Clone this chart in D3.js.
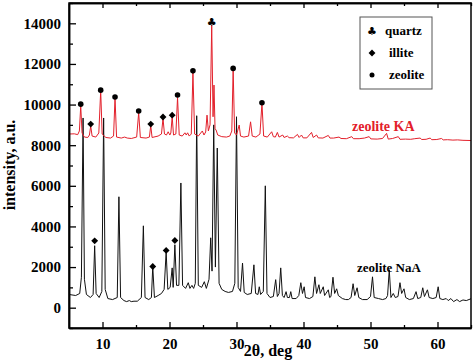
<!DOCTYPE html>
<html>
<head>
<meta charset="utf-8">
<script src="https://cdn.jsdelivr.net/npm/d3@7"></script>
<style>
  body { margin: 0; background: #fff; }
  svg text { font-family: "Liberation Serif", "Times New Roman", serif; font-weight: bold; }
</style>
</head>
<body>
<svg id="chart" width="474" height="362"></svg>
<script>
// zeolite NaA pattern, [2theta, intensity]
const naA = [
  [5.0,650],[6.0,600],[6.6,700],[6.85,1500],[7.1,9340],[7.3,1400],[7.6,650],[8.2,500],[8.6,650],
  [8.83,3050],[9.05,700],[9.5,500],[9.9,800],[10.17,9340],[10.4,900],[10.8,450],[11.5,400],[12.2,500],
  [12.45,5460],[12.7,500],[13.2,350],[13.6,300],[14.0,350],[14.3,300],[14.7,320],[15.2,320],[15.8,500],
  [16.1,4030],[16.35,500],[16.9,400],[17.3,500],[17.5,2020],[17.75,500],[18.3,600],[18.8,700],[19.2,900],
  [19.5,2750],[19.75,900],[20.1,1000],[20.4,1960],[20.55,1000],[20.8,3100],[21.05,1100],[21.4,1100],
  [21.7,6140],[21.95,1100],[22.4,950],[22.8,1230],[23.05,950],[23.35,1100],[23.6,950],[23.85,1200],
  [24.06,9450],[24.3,1100],[24.8,1000],[25.2,1280],[25.5,950],[25.9,1400],[26.15,3440],[26.35,1800],
  [26.6,9000],[26.85,2000],[27.13,7860],[27.4,1200],[27.8,900],[28.3,800],[28.8,750],[29.4,800],
  [29.75,1200],[30.0,9400],[30.25,1000],[30.6,800],[30.9,2200],[31.15,750],[31.6,650],[32.2,700],
  [32.6,2110],[32.85,700],[33.2,650],[33.4,1030],[33.6,650],[34.0,800],[34.3,6000],[34.55,700],
  [35.0,500],[35.5,550],[35.85,1380],[36.1,550],[36.35,700],[36.6,1960],[36.85,600],[37.1,500],
  [37.4,790],[37.6,500],[37.9,500],[38.1,790],[38.3,450],[38.9,450],[39.3,600],[39.6,1230],[39.85,700],
  [40.1,1030],[40.3,500],[40.9,450],[41.4,550],[41.7,1520],[41.95,700],[42.3,1130],[42.5,700],
  [42.95,1030],[43.15,600],[43.7,880],[43.9,500],[44.1,550],[44.4,1500],[44.65,700],[44.95,930],
  [45.2,600],[45.8,450],[46.3,400],[46.7,400],[47.1,500],[47.4,1180],[47.65,600],[48.0,980],[48.25,500],
  [48.8,400],[49.5,400],[50.0,550],[50.3,1520],[50.55,500],[51.2,450],[51.8,400],[52.3,450],[52.55,600],
  [52.8,1870],[53.05,500],[53.4,700],[53.7,500],[54.1,550],[54.4,1230],[54.65,700],[55.0,930],
  [55.25,500],[55.8,400],[56.4,450],[56.8,790],[57.05,450],[57.5,500],[57.8,980],[58.05,550],
  [58.5,880],[58.75,500],[59.3,450],[59.8,500],[60.1,1030],[60.35,450],[60.8,400],[61.3,450],
  [61.6,350],[62.0,450],[62.4,300],[62.9,400],[63.3,300],[63.8,380],[64.3,350],[65.0,440]
];

// zeolite KA pattern
const kA = [
  [5.0,8550],[5.8,8560],[6.3,8520],[6.55,8700],[6.75,9930],[6.95,8600],[7.3,8400],[7.8,8380],
  [8.05,8500],[8.24,8940],[8.45,8450],[9.0,8400],[9.45,8600],[9.73,10680],[9.95,8550],[10.5,8380],
  [11.2,8350],[11.65,8450],[11.87,10330],[12.1,8400],[12.8,8350],[13.3,8400],[13.7,8350],[14.3,8330],
  [15.1,8400],[15.4,9600],[15.65,8380],[16.5,8350],[17.0,8400],[17.2,8960],[17.4,8380],[18.3,8450],
  [18.8,8550],[19.03,9320],[19.25,8550],[19.55,8500],[19.8,8660],[20.05,8500],[20.2,8600],[20.4,9400],
  [20.6,8500],[20.95,8550],[21.2,10350],[21.45,8500],[21.9,8450],[22.3,8610],[22.5,8500],[22.7,8610],
  [22.95,8450],[23.25,8550],[23.5,11560],[23.75,8550],[24.3,8450],[24.9,8700],[25.15,8500],[25.4,8650],
  [25.6,9480],[25.8,8700],[26.05,9000],[26.3,13900],[26.5,9400],[26.64,10960],[26.8,8800],[26.95,8750],
  [27.2,8500],[27.8,8420],[28.5,8400],[29.0,8450],[29.3,8700],[29.5,11730],[29.72,8600],[30.0,8500],
  [30.4,8990],[30.6,8450],[31.1,8400],[31.8,8450],[32.1,9150],[32.35,8450],[32.9,8400],[33.5,8550],
  [33.8,10060],[34.05,8450],[34.6,8400],[35.25,8660],[35.5,8420],[35.8,8400],[36.1,8630],[36.35,8400],
  [36.9,8500],[37.1,8380],[37.6,8450],[37.85,8370],[38.5,8360],[39.1,8530],[39.35,8380],[39.7,8500],
  [39.95,8360],[40.5,8360],[41.2,8630],[41.45,8380],[41.95,8500],[42.2,8360],[42.9,8350],[43.7,8480],
  [43.95,8350],[44.5,8350],[45.3,8400],[45.6,8330],[46.4,8320],[47.2,8420],[47.45,8320],[48.3,8320],
  [49.1,8350],[49.8,8420],[50.05,8310],[51.0,8300],[51.8,8330],[52.4,8580],[52.65,8300],[53.3,8330],
  [54.15,8420],[54.4,8290],[55.2,8300],[56.0,8290],[56.6,8320],[57.4,8350],[57.65,8280],[58.3,8290],
  [58.9,8350],[59.15,8270],[59.9,8280],[60.6,8330],[60.85,8260],[61.5,8270],[62.3,8250],[63.0,8260],
  [63.8,8240],[65.0,8230]
];

// phase markers, [2theta, intensity of marker]
const zeoliteMarks = [[6.75,10020],[9.73,10710],[11.87,10370],[15.4,9680],[21.2,10470],[23.5,11660],[29.5,11780],[33.8,10090]];
const illiteMarks = [[8.24,9040],[17.2,9040],[19.03,9390],[20.4,9480],[8.83,3290],[17.5,2030],[19.5,2820],[20.8,3310]];
const quartzMarks = [[26.3,14050]];

const xTicks = [10, 20, 30, 40, 50, 60];
const xMinor = [15, 25, 35, 45, 55, 65];
const yTicks = [0, 2000, 4000, 6000, 8000, 10000, 12000, 14000];
const yMinor = [-1000, 1000, 3000, 5000, 7000, 9000, 11000, 13000, 15000];

const legendItems = ["quartz", "illite", "zeolite"];

var svg = d3.select("#chart"),
  width = +svg.attr("width"),
  height = +svg.attr("height");
var margin = {top: 3, right: 3, bottom: 34, left: 69};
var w = width - margin.left - margin.right,
  h = height - margin.top - margin.bottom;

var g = svg.append("g").attr("transform", "translate(" + margin.left + "," + margin.top + ")");

var x = d3.scaleLinear().domain([5, 65]).range([0, w]);
var y = d3.scaleLinear().domain([-1000, 15000]).range([h, 0]);

var red = "#e3202b";
var serif = "'Liberation Serif', 'Times New Roman', serif";

// lines
var line = d3.line().x(d => x(d[0])).y(d => y(d[1]));
g.append("path").datum(naA).attr("d", line)
  .attr("fill", "none").attr("stroke", "#111").attr("stroke-width", 1);
g.append("path").datum(kA).attr("d", line)
  .attr("fill", "none").attr("stroke", red).attr("stroke-width", 1);

// markers
g.selectAll(".zeo").data(zeoliteMarks).enter().append("circle")
  .attr("cx", d => x(d[0])).attr("cy", d => y(d[1])).attr("r", 2.8).attr("fill", "#000");
var diamond = d3.symbol().type(d3.symbolDiamond2).size(30);
g.selectAll(".ill").data(illiteMarks).enter().append("path")
  .attr("d", diamond)
  .attr("transform", d => "translate(" + x(d[0]) + "," + y(d[1]) + ")")
  .attr("fill", "#000");
g.selectAll(".qtz").data(quartzMarks).enter().append("text")
  .attr("x", d => x(d[0])).attr("y", d => y(d[1]) + 4)
  .attr("text-anchor", "middle")
  .style("font-family", "DejaVu Sans").style("font-size", "11px")
  .text("\u2663");

// axes
var fmt = d3.format("d");
g.append("g").attr("transform", "translate(0," + h + ")")
  .call(d3.axisBottom(x).tickValues(xTicks).tickFormat(fmt).tickSize(-6).tickPadding(10).tickSizeOuter(0));
g.append("g").attr("transform", "translate(0," + h + ")")
  .call(d3.axisBottom(x).tickValues(xMinor).tickSize(-3).tickFormat("").tickSizeOuter(0));
g.append("g").call(d3.axisTop(x).tickValues(xTicks).tickSize(-5).tickFormat("").tickSizeOuter(0));
g.append("g").call(d3.axisTop(x).tickValues(xMinor).tickSize(-3).tickFormat("").tickSizeOuter(0));
g.append("g")
  .call(d3.axisLeft(y).tickValues(yTicks).tickFormat(fmt).tickSize(-7).tickPadding(8).tickSizeOuter(0));
g.append("g").call(d3.axisLeft(y).tickValues(yMinor).tickSize(-4).tickFormat("").tickSizeOuter(0));

g.selectAll(".tick line").attr("stroke", "#000").attr("stroke-width", 1.3);
g.selectAll(".domain").attr("stroke", "#000").attr("stroke-width", 1.5);
g.selectAll(".tick text")
  .style("font-family", serif).style("font-weight", "bold")
  .style("font-size", "15px").attr("fill", "#000");

g.append("rect").attr("width", w).attr("height", h)
  .attr("fill", "none").attr("stroke", "#000").attr("stroke-width", 1.5);

// axis titles
svg.append("text")
  .attr("transform", "translate(15," + (margin.top + 162) + ") rotate(-90)")
  .attr("text-anchor", "middle").style("font-size", "16px")
  .text("intensity, a.u.");
svg.append("text")
  .attr("x", 268).attr("y", 356)
  .attr("text-anchor", "middle").style("font-size", "16px")
  .text("2\u03b8, deg");

// series labels
g.append("text").attr("x", 352 - margin.left).attr("y", 131 - margin.top)
  .style("font-size", "14px").attr("fill", red).text("zeolite KA");
g.append("text").attr("x", 357 - margin.left).attr("y", 272 - margin.top)
  .style("font-size", "13px").attr("fill", "#000").text("zeolite NaA");

// legend
var lg = svg.append("g").attr("transform", "translate(360,17)");
lg.append("rect").attr("width", 72).attr("height", 72)
  .attr("fill", "#fff").attr("stroke", "#555").attr("stroke-width", 1);
lg.append("text").attr("x", 12).attr("y", 18).attr("text-anchor", "middle")
  .style("font-family", "DejaVu Sans").style("font-size", "11px").text("\u2663");
lg.append("path").attr("d", diamond).attr("transform", "translate(12,36)");
lg.append("circle").attr("cx", 12).attr("cy", 58).attr("r", 2.5);
lg.selectAll(".lt").data(legendItems).enter().append("text")
  .attr("x", (d, i) => i == 0 ? 25 : 29)
  .attr("y", (d, i) => 18 + i * 22)
  .style("font-size", "13px")
  .text(d => d);
</script>
</body>
</html>
